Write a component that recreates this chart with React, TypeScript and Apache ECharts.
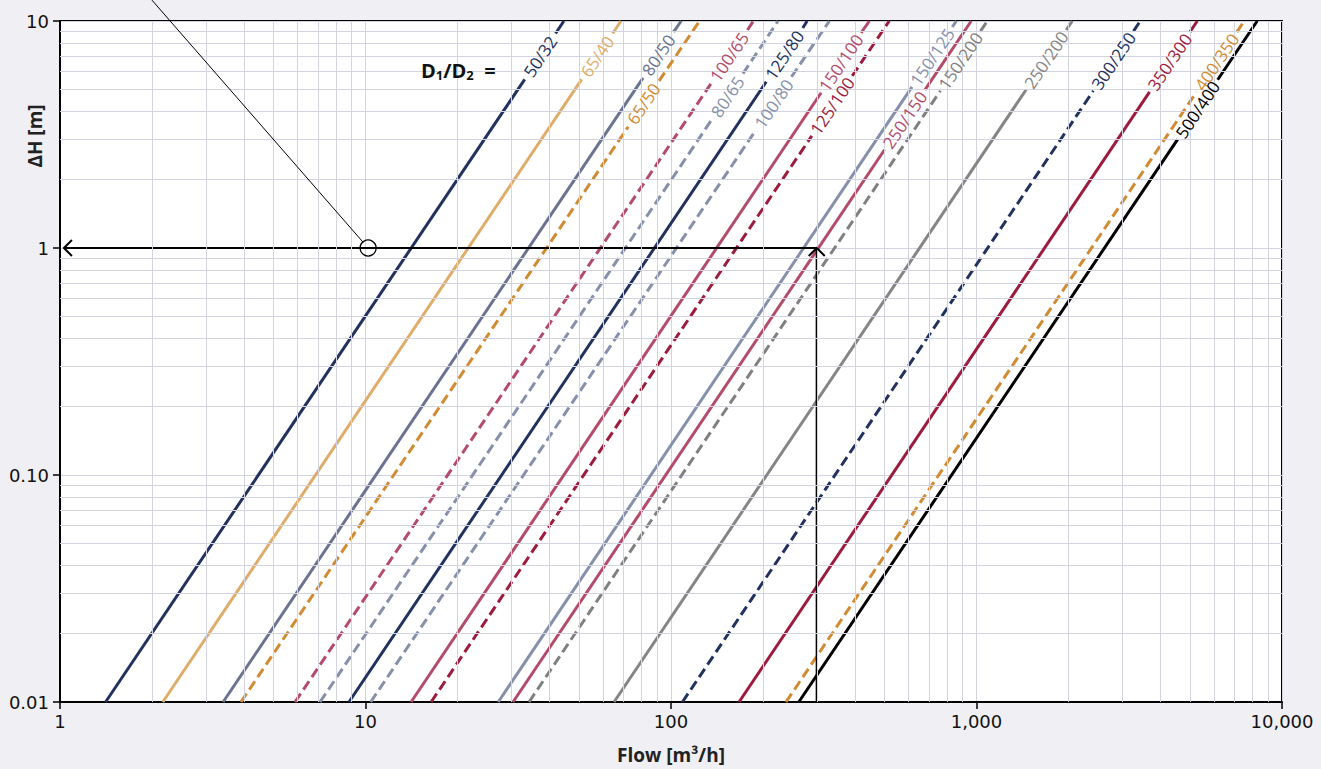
import React, { useEffect, useRef } from "react";
import * as echarts from "echarts";

// ---- data ----
const pipeNames = ["50/32", "65/40", "80/50", "65/50", "100/65", "80/65", "125/80", "100/80", "150/100", "125/100", "150/125", "250/150", "150/200", "250/200", "300/250", "350/300", "400/350", "500/400"];
const pipeColors = ["#22315e", "#dfad6b", "#6b7390", "#d08b33", "#b34c6b", "#8790ab", "#22315e", "#8790ab", "#b34c6b", "#9c1c3e", "#8790ab", "#b34c6b", "#808080", "#858585", "#22315e", "#9c1c3e", "#d08b33", "#000000"];
const pipeDashed = [false, false, false, true, true, true, false, true, false, true, false, false, true, false, true, false, true, false];

const headBottom = 0.01;
const headTop = 10;
const flowBottom = [1.41, 2.17, 3.42, 3.91, 5.88, 7.10, 8.83, 10.4, 14.1, 16.4, 27.2, 30.4, 34.3, 65.1, 109, 167, 238, 262];
const gapLowFlow = [33.2, 51.0, 81.0, 72.4, 135, 136, 205, 189, 310, 289, 615, 500, 762, 1453, 2413, 3686, 5250, 4553];
const gapLowHead = [5.53, 5.53, 5.62, 3.42, 5.29, 3.68, 5.40, 3.29, 4.83, 3.12, 5.13, 2.71, 4.93, 4.98, 4.93, 4.87, 4.87, 3.01];
const gapHighFlow = [41.9, 64.4, 102, 91.4, 178, 172, 270, 248, 419, 392, 833, 678, 1031, 1967, 3266, 4993, 7113, 6158];
const gapHighHead = [8.81, 8.81, 8.95, 5.45, 9.13, 5.86, 9.32, 5.68, 8.86, 5.73, 9.41, 4.97, 9.03, 9.13, 9.03, 8.94, 8.94, 5.51];
const flowTop = [44.6, 68.6, 108, 124, 186, 224, 279, 330, 446, 518, 859, 961, 1085, 2058, 3437, 5281, 7523, 8297];
const labelFlow = [37.3, 57.3, 91.0, 81.3, 155, 153, 235, 217, 360, 337, 716, 582, 886, 1690, 2808, 4290, 6112, 5293];
const labelHead = [6.98, 6.98, 7.09, 4.32, 6.95, 4.64, 7.09, 4.32, 6.54, 4.23, 6.95, 3.67, 6.67, 6.74, 6.67, 6.60, 6.60, 4.07];

// example reading: Q = 300 m3/h -> dH = 1 m
const exampleFlow = [300, 300, 1.03];
const exampleHead = [0.01, 1, 1];
const calloutFlow = [2.0, 10.2];
const calloutHead = [12.36, 1];

const xTickValues = [1, 10, 100, 1000, 10000];
const xTickLabels = ["1", "10", "100", "1,000", "10,000"];
const yTickValues = [0.01, 0.1, 1, 10];
const yTickLabels = ["0.01", "0.10", "1", "10"];

const xMinorGrid = [2, 3, 4, 5, 6, 7, 8, 9, 20, 30, 40, 50, 60, 70, 80, 90, 200, 300, 400, 500, 600, 700, 800, 900, 2000, 3000, 4000, 5000, 6000, 7000, 8000, 9000];
const yMinorGrid = [0.02, 0.03, 0.04, 0.05, 0.06, 0.07, 0.08, 0.09, 0.2, 0.3, 0.4, 0.5, 0.6, 0.7, 0.8, 0.9, 2, 3, 4, 5, 6, 7, 8, 9];

const GRID_COLOR = "#d3d4df";
const TICK_FONT = "DejaVu Sans";
const TEXT_FONT = "Open Sans";

function pickLabel(v: number, values: number[], labels: string[]) {
  for (let i = 0; i < values.length; i++) {
    if (Math.abs(Math.log10(v) - Math.log10(values[i])) < 1e-6) return labels[i];
  }
  return "";
}

export default function App() {
  const ref = useRef<HTMLDivElement>(null);

  useEffect(() => {
    if (!ref.current) return;
    const chart = echarts.init(ref.current, null, { renderer: "svg" });

    const series: any[] = [];
    series.push({
      type: "line",
      name: "grid",
      data: [[1, 0.01]],
      showSymbol: false,
      symbol: "none",
      lineStyle: { opacity: 0 },
      silent: true,
      z: 1,
      markLine: {
        silent: true,
        symbol: ["none", "none"],
        animation: false,
        label: { show: false },
        lineStyle: { color: GRID_COLOR, width: 1, type: "solid" },
        emphasis: { disabled: true },
        data: [
          ...xMinorGrid.map((v) => ({ xAxis: v })),
          ...yMinorGrid.map((v) => ({ yAxis: v })),
        ],
      },
    });

    pipeNames.forEach((name, i) => {
      const lineStyle = {
        color: pipeColors[i],
        width: 3,
        type: pipeDashed[i] ? [10, 5] : "solid",
      };
      series.push({
        type: "line",
        name: name + " a",
        data: [
          [flowBottom[i], headBottom],
          [gapLowFlow[i], gapLowHead[i]],
        ],
        showSymbol: false,
        symbol: "none",
        lineStyle,
        silent: true,
        z: 3,
      });
      series.push({
        type: "line",
        name: name + " b",
        data: [
          [gapHighFlow[i], gapHighHead[i]],
          [flowTop[i], headTop],
        ],
        showSymbol: false,
        symbol: "none",
        lineStyle,
        silent: true,
        z: 3,
      });
    });

    series.push({
      type: "line",
      name: "example",
      data: exampleFlow.map((q, i) => [q, exampleHead[i]]),
      showSymbol: false,
      symbol: "none",
      lineStyle: { color: "#000", width: 2.2 },
      silent: true,
      z: 4,
    });

    const option: any = {
      animation: false,
      backgroundColor: "#efeff4",
      grid: {
        left: 60,
        right: 39,
        top: 21,
        bottom: 65,
        show: true,
        backgroundColor: "#ffffff",
        borderColor: "#000",
        borderWidth: 2,
        z: 0,
      },
      xAxis: {
        type: "log",
        logBase: 10,
        min: 1,
        max: 10000,
        axisLine: { show: true, lineStyle: { color: "#000", width: 2 } },
        axisTick: { show: true, length: 7, lineStyle: { color: "#000", width: 1.5 } },
        axisLabel: {
          fontFamily: TICK_FONT,
          fontSize: 18,
          color: "#111",
          margin: 10,
          formatter: (v: number) => pickLabel(v, xTickValues, xTickLabels),
        },
        splitLine: { show: true, lineStyle: { color: GRID_COLOR, width: 1 } },
        name: "Flow [m³/h]",
        nameLocation: "middle",
        nameGap: 43,
        nameTextStyle: { fontFamily: TEXT_FONT, fontWeight: "bold", fontSize: 19, color: "#222" },
      },
      yAxis: {
        type: "log",
        logBase: 10,
        min: 0.01,
        max: 10,
        axisLine: { show: true, lineStyle: { color: "#000", width: 2 } },
        axisTick: { show: true, length: 7, lineStyle: { color: "#000", width: 1.5 } },
        axisLabel: {
          fontFamily: TICK_FONT,
          fontSize: 18,
          color: "#111",
          margin: 11,
          formatter: (v: number) => pickLabel(v, yTickValues, yTickLabels),
        },
        splitLine: { show: true, lineStyle: { color: GRID_COLOR, width: 1 } },
      },
      series,
    };

    chart.setOption(option);

    const px = (q: number, h: number) => chart.convertToPixel({ gridIndex: 0 }, [q, h]) as number[];
    const graphics: any[] = [];

    // axis title for y
    graphics.push({
      type: "text",
      x: 35,
      y: 136,
      rotation: Math.PI / 2,
      style: {
        text: "ΔH [m]",
        font: `bold 19px "${TEXT_FONT}"`,
        fill: "#222",
        align: "center",
        verticalAlign: "middle",
      },
      z: 10,
    });

    // D1/D2 =
    graphics.push({
      type: "text",
      x: 421,
      y: 70,
      style: {
        text: "{a|D}{b|1}{a|/D}{b|2}{a|  =}",
        fill: "#111",
        verticalAlign: "middle",
        rich: {
          a: { font: `bold 20px "${TEXT_FONT}"`, fill: "#111", lineHeight: 24 },
          b: { font: `bold 13px "${TEXT_FONT}"`, fill: "#111", padding: [10, 0, 0, 0], lineHeight: 14 },
        },
      },
      z: 10,
    });

    // pipe labels
    const ang = (56 * Math.PI) / 180;
    pipeNames.forEach((name, i) => {
      const p = px(labelFlow[i], labelHead[i]);
      graphics.push({
        type: "text",
        x: p[0],
        y: p[1],
        rotation: ang,
        style: {
          text: name,
          font: `17px "${TEXT_FONT}"`,
          fill: pipeColors[i],
          align: "center",
          verticalAlign: "middle",
        },
        z: 10,
      });
    });

    // callout circle + leader
    const c = px(calloutFlow[1], calloutHead[1]);
    const s = px(calloutFlow[0], calloutHead[0]);
    const r = 8;
    const dx = c[0] - s[0];
    const dy = c[1] - s[1];
    const len = Math.sqrt(dx * dx + dy * dy);
    graphics.push({
      type: "circle",
      shape: { cx: c[0], cy: c[1], r },
      style: { fill: "none", stroke: "#000", lineWidth: 1.3 },
      z: 10,
    });
    graphics.push({
      type: "line",
      shape: { x1: s[0], y1: s[1], x2: c[0] - (dx / len) * r, y2: c[1] - (dy / len) * r },
      style: { stroke: "#000", lineWidth: 1 },
      z: 10,
    });

    // arrow heads
    const up = px(exampleFlow[1], exampleHead[1]);
    graphics.push({
      type: "polyline",
      shape: { points: [[up[0] - 8, up[1] + 8], [up[0], up[1]], [up[0] + 8, up[1] + 8]] },
      style: { stroke: "#000", lineWidth: 2, fill: "none" },
      z: 10,
    });
    const lf = px(exampleFlow[2], exampleHead[2]);
    graphics.push({
      type: "polyline",
      shape: { points: [[lf[0] + 8, lf[1] - 8], [lf[0], lf[1]], [lf[0] + 8, lf[1] + 8]] },
      style: { stroke: "#000", lineWidth: 2, fill: "none" },
      z: 10,
    });

    chart.setOption({ graphic: graphics });

    return () => {
      chart.dispose();
    };
  }, []);

  return (
    <div
      ref={ref}
      style={{ position: "fixed", left: 0, top: 0, width: 1321, height: 769 }}
    />
  );
}
